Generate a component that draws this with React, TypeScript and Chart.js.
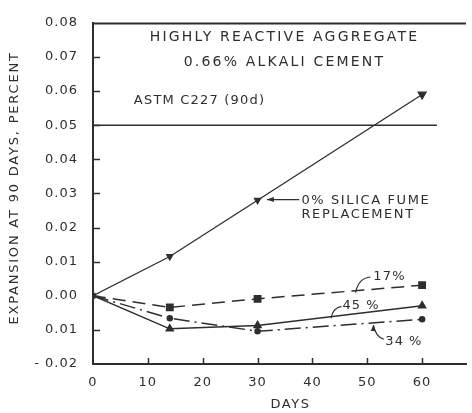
import React, { useEffect, useRef } from "react";
import { Chart, registerables } from "chart.js";

Chart.register(...registerables);

// ---- data ----
const days = [0, 14, 30, 60];
const silicaFume0 = [0, 0.0115, 0.028, 0.059];
const silicaFume17 = [0, -0.0034, -0.0009, 0.0031];
const silicaFume34 = [0, -0.0066, -0.0104, -0.0069];
const silicaFume45 = [0, -0.0097, -0.0087, -0.0029];
const astmDays = [0, 62.7];
const astmLimit = [0.05, 0.05];
const yTickLabels = ["- 0.02", "0.01", "0.00", "0.01", "0.02", "0.03", "0.04", "0.05", "0.06", "0.07", "0.08"];
const xTickLabels = ["0", "10", "20", "30", "40", "50", "60"];

const INK = "#2e2e2e";
const FONT = "DejaVu Sans";

const pts = (xs: number[], ys: number[]) => xs.map((x, i) => ({ x, y: ys[i] }));

const decorPlugin = {
  id: "decor",
  beforeDraw(chart: any) {
    chart.ctx.letterSpacing = "1px";
  },
  afterDraw(chart: any) {
    const ctx = chart.ctx as CanvasRenderingContext2D;
    const xs = chart.scales.x;
    const ys = chart.scales.y;
    const { left, right, top, bottom } = chart.chartArea;
    const X = (v: number) => xs.getPixelForValue(v);
    const Y = (v: number) => ys.getPixelForValue(v);
    ctx.save();
    ctx.strokeStyle = INK;
    ctx.fillStyle = INK;
    // top frame line
    ctx.lineWidth = 2;
    ctx.beginPath();
    ctx.moveTo(left, Math.round(top) + 0.5);
    ctx.lineTo(right, Math.round(top) + 0.5);
    ctx.stroke();
    // inner ticks
    ctx.lineWidth = 1.5;
    ctx.beginPath();
    for (let v = -0.01; v < 0.075; v += 0.01) {
      const py = Math.round(Y(v)) + 0.5;
      ctx.moveTo(left, py);
      ctx.lineTo(left + 7, py);
    }
    for (let d = 10; d <= 60; d += 10) {
      const px = Math.round(X(d)) + 0.5;
      ctx.moveTo(px, bottom);
      ctx.lineTo(px, bottom - 6);
    }
    ctx.stroke();

    const text = (s: string, x: number, y: number, align: CanvasTextAlign, size = 13, spacing = "1.5px") => {
      ctx.font = `${size}px "${FONT}"`;
      (ctx as any).letterSpacing = spacing;
      ctx.textAlign = align;
      ctx.textBaseline = "middle";
      ctx.fillText(s, x, y);
    };

    // titles inside plot
    text("HIGHLY REACTIVE AGGREGATE", X(34.9), Y(0.0756), "center", 14, "2.2px");
    text("0.66% ALKALI CEMENT", X(34.9), Y(0.0684), "center", 14, "2.2px");
    text("ASTM C227 (90d)", X(7.45), Y(0.0572), "left", 13, "1.2px");

    // 0% label with arrow
    text("0% SILICA FUME", X(38.0), Y(0.0279), "left", 13, "1.6px");
    text("REPLACEMENT", X(38.0), Y(0.0239), "left", 13, "1.6px");
    ctx.lineWidth = 1.2;
    const ay = Y(0.0282);
    ctx.beginPath();
    ctx.moveTo(X(37.6), ay);
    ctx.lineTo(X(31.7), ay);
    ctx.stroke();
    ctx.beginPath();
    ctx.moveTo(X(31.7), ay);
    ctx.lineTo(X(31.7) + 7, ay - 2.5);
    ctx.lineTo(X(31.7) + 7, ay + 2.5);
    ctx.closePath();
    ctx.fill();

    // 17% label
    text("17%", X(51.1), Y(0.0057), "left", 13, "1.2px");
    ctx.beginPath();
    ctx.moveTo(X(47.85), Y(0.0009));
    ctx.quadraticCurveTo(X(48.4), Y(0.0052), X(50.6), Y(0.0055));
    ctx.stroke();

    // 45% label
    text("45 %", X(45.5), Y(-0.0029), "left", 13, "1px");
    ctx.beginPath();
    ctx.moveTo(X(43.4), Y(-0.0066));
    ctx.quadraticCurveTo(X(43.7), Y(-0.0036), X(45.3), Y(-0.0031));
    ctx.stroke();

    // 34% label
    text("34 %", X(53.3), Y(-0.0134), "left", 13, "1px");
    ctx.beginPath();
    ctx.moveTo(X(51.1), Y(-0.0086));
    ctx.quadraticCurveTo(X(51.6), Y(-0.0122), X(53.0), Y(-0.0127));
    ctx.stroke();
    const tipx = X(51.1), tipy = Y(-0.0086);
    ctx.beginPath();
    ctx.moveTo(tipx, tipy);
    ctx.lineTo(tipx - 2.5, tipy + 6);
    ctx.lineTo(tipx + 2.5, tipy + 6);
    ctx.closePath();
    ctx.fill();

    // axis titles
    text("DAYS", X(36), bottom + 41, "center", 13, "1.5px");
    ctx.save();
    ctx.translate(left - 78, Y(0.0316));
    ctx.rotate(-Math.PI / 2);
    text("EXPANSION AT 90 DAYS, PERCENT", 0, 0, "center", 13, "1.8px");
    ctx.restore();

    ctx.restore();
  },
};

export default function App() {
  const ref = useRef<HTMLCanvasElement | null>(null);

  useEffect(() => {
    if (!ref.current) return;
    Chart.defaults.font.family = FONT;
    const chart = new Chart(ref.current, {
      type: "line",
      data: {
        datasets: [
          {
            label: "ASTM C227 (90d)",
            data: pts(astmDays, astmLimit),
            borderColor: INK,
            borderWidth: 1.5,
            pointRadius: 0,
          },
          {
            label: "0%",
            data: pts(days, silicaFume0),
            borderColor: INK,
            backgroundColor: INK,
            borderWidth: 1.3,
            pointStyle: "triangle",
            rotation: 180,
            pointRadius: [0, 3.5, 3.5, 4.5],
          },
          {
            label: "17%",
            data: pts(days, silicaFume17),
            borderColor: INK,
            backgroundColor: INK,
            borderWidth: 1.5,
            borderDash: [13, 7],
            pointStyle: "rect",
            pointRadius: [0, 4.5, 4.5, 4.5],
          },
          {
            label: "34%",
            data: pts(days, silicaFume34),
            borderColor: INK,
            backgroundColor: INK,
            borderWidth: 1.5,
            borderDash: [16, 5, 2, 5],
            pointStyle: "circle",
            pointRadius: [0, 2.5, 2.5, 2.5],
          },
          {
            label: "45%",
            data: pts(days, silicaFume45),
            borderColor: INK,
            backgroundColor: INK,
            borderWidth: 1.5,
            pointStyle: "triangle",
            pointRadius: [0, 4, 4, 4],
          },
          {
            label: "origin",
            data: pts([days[0]], [silicaFume0[0]]),
            borderColor: INK,
            backgroundColor: INK,
            pointRadius: 3,
            showLine: false,
          },
        ],
      },
      options: {
        responsive: false,
        animation: false,
        events: [],
        layout: { padding: { top: 16, left: 0, right: 0, bottom: 0 } },
        plugins: { legend: { display: false }, tooltip: { enabled: false } },
        scales: {
          x: {
            type: "linear",
            min: 0,
            max: 68,
            afterBuildTicks: (s: any) => {
              s.ticks = s.ticks.filter((t: any) => t.value <= 60);
            },
            afterFit: (s: any) => {
              s.height = 49;
            },
            ticks: {
              stepSize: 10,
              color: INK,
              font: { size: 13, family: FONT },
              padding: 11,
              maxRotation: 0,
              callback: (v: any, i: number) => xTickLabels[i] ?? "",
            },
            grid: { display: false, drawTicks: false },
            border: { display: true, color: INK, width: 2 },
          },
          y: {
            type: "linear",
            min: -0.02,
            max: 0.08,
            afterFit: (s: any) => {
              s.width = 93;
            },
            ticks: {
              stepSize: 0.01,
              color: INK,
              font: { size: 13, family: FONT },
              padding: 15,
              callback: (v: any, i: number) => yTickLabels[i] ?? "",
            },
            grid: { display: false, drawTicks: false },
            border: { display: true, color: INK, width: 2 },
          },
        },
      },
      plugins: [decorPlugin],
    });
    return () => chart.destroy();
  }, []);

  return (
    <div style={{ position: "fixed", left: 0, top: 0, width: 472, height: 413, background: "#fff" }}>
      <canvas ref={ref} width={472} height={413} style={{ display: "block" }} />
    </div>
  );
}
